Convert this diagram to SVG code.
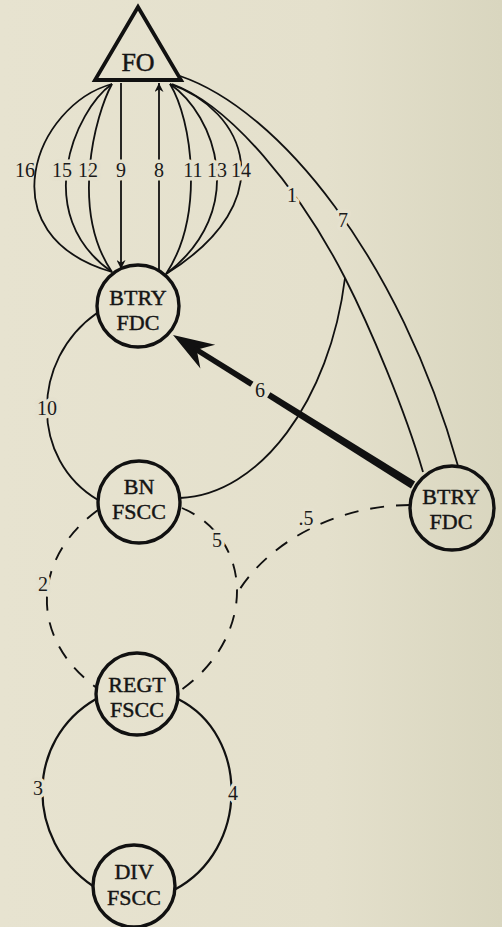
<svg xmlns="http://www.w3.org/2000/svg" width="502" height="927" viewBox="0 0 502 927">
<defs>
<linearGradient id="bg" x1="0" y1="0" x2="1" y2="0">
<stop offset="0" stop-color="#e7e3d0"/>
<stop offset="0.65" stop-color="#e4e0cc"/>
<stop offset="1" stop-color="#d9d6bf"/>
</linearGradient>
<marker id="ah" viewBox="0 0 10 10" refX="10" refY="5" markerWidth="13" markerHeight="9" markerUnits="userSpaceOnUse" orient="auto">
<path d="M0,0 L10,5 L0,10 L3,5 z" fill="#111"/>
</marker>
<style>
.node{fill:none;stroke:#111;stroke-width:3.4}
.nt{font-family:"Liberation Serif",serif;font-size:22px;fill:#151515;stroke:#151515;stroke-width:0.45;text-anchor:middle}
.c{fill:none;stroke:#111;stroke-width:1.8}
.d{fill:none;stroke:#111;stroke-width:1.9;stroke-dasharray:14 12}
.lbl{font-family:"Liberation Serif",serif;font-size:20px;fill:#1a1a1a;text-anchor:middle;stroke:#e5e1ce;stroke-width:7;paint-order:stroke;stroke-linejoin:round}
.plain{stroke:none}
</style>
</defs>
<rect width="502" height="927" fill="url(#bg)"/>

<g id="connectors">
<path class="c" d="M112,84 C35,105 -15,235 112,272"/>
<path class="c" d="M112,84 C75,110 30,215 112,272"/>
<path class="c" d="M112,84 C95,115 70,210 112,272"/>
<path class="c" d="M121,83 L121,269" marker-end="url(#ah)"/>
<path class="c" d="M159,270 L159,83" marker-end="url(#ah)"/>
<path class="c" d="M170,84 C192,120 205,215 166,274"/>
<path class="c" d="M170,84 C215,115 250,210 166,274"/>
<path class="c" d="M170,84 C245,110 285,200 166,274"/>
<path class="c" d="M172,84 C230,105 300,190 345,278 C370,327 405,410 423,472"/>
<path class="c" d="M180,76 C280,110 400,260 458,466"/>
<path class="c" d="M180,498 C260,495 330,400 345,278"/>
<path class="c" d="M97,313 C30,360 30,460 98,500"/>
<polygon fill="#111" points="173,335 215.2,344.8 196.7,349.8 200.4,368.6"/>
<polygon fill="#111" points="195.6,346.05 253.5,381.8 250.3,386.8 192.8,350.55"/>
<polygon fill="#111" points="270.4,392.3 415.1,481.6 410.9,488.4 267.2,397.5"/>
<path class="d" d="M98,510 C30,560 30,640 97,688"/>
<path class="d" d="M182,508 C256,540 256,640 178,692"/>
<path class="d" d="M410,505 C340,505 270,540 238,592"/>
<path class="c" style="stroke-width:2.2" d="M96,699 C25,740 25,840 93,886"/>
<path class="c" style="stroke-width:2.2" d="M178,699 C250,735 250,850 174,890"/>

<text class="lbl plain" x="25" y="177">16</text>
<text class="lbl" x="62" y="177">15</text>
<text class="lbl" x="88" y="177">12</text>
<text class="lbl" x="121" y="177">9</text>
<text class="lbl" x="159" y="177">8</text>
<text class="lbl" x="193" y="177">11</text>
<text class="lbl" x="217" y="177">13</text>
<text class="lbl" x="241" y="177">14</text>
<text class="lbl" x="292" y="202">1</text>
<text class="lbl" x="343" y="227">7</text>
<text class="lbl plain" x="260" y="397">6</text>
<text class="lbl" x="47" y="415">10</text>
<text class="lbl" x="43" y="591">2</text>
<text class="lbl" x="217" y="547">5</text>
<text class="lbl" x="306" y="525">.5</text>
<text class="lbl" x="38" y="795">3</text>
<text class="lbl" x="233" y="800">4</text>
</g>

<g id="fo">
<polygon points="138,7 95,80 181,80" fill="none" stroke="#111" stroke-width="3.8" stroke-linejoin="miter"/>
<text class="nt" x="138" y="71" style="font-size:26px">FO</text>
</g>
<g id="btry-fdc-1">
<circle class="node" cx="138" cy="306" r="41"/>
<text class="nt" x="138" y="305">BTRY</text>
<text class="nt" x="138" y="330">FDC</text>
</g>
<g id="bn-fscc">
<circle class="node" cx="139" cy="502" r="41"/>
<text class="nt" x="139" y="494">BN</text>
<text class="nt" x="139" y="519">FSCC</text>
</g>
<g id="regt-fscc">
<circle class="node" cx="137" cy="694" r="41"/>
<text class="nt" x="137" y="692">REGT</text>
<text class="nt" x="137" y="717">FSCC</text>
</g>
<g id="div-fscc">
<circle class="node" cx="134" cy="886" r="41"/>
<text class="nt" x="134" y="879">DIV</text>
<text class="nt" x="134" y="905">FSCC</text>
</g>
<g id="btry-fdc-2">
<circle class="node" cx="452" cy="508" r="42"/>
<text class="nt" x="451" y="504">BTRY</text>
<text class="nt" x="451" y="529">FDC</text>
</g>
</svg>
